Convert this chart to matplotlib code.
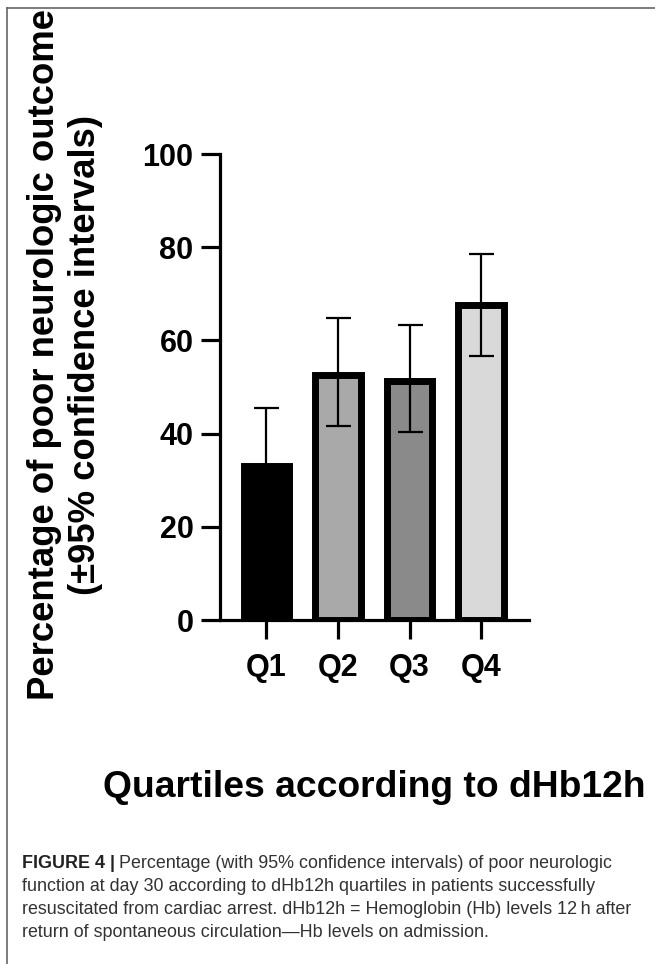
import numpy as np
import matplotlib
matplotlib.use("Agg")
import matplotlib.pyplot as plt
from matplotlib.lines import Line2D

# data
quartiles = ["Q1", "Q2", "Q3", "Q4"]
pct = [33.0, 52.5, 51.2, 67.7]
ci_low = [21.5, 41.7, 40.4, 56.7]
ci_high = [45.6, 64.7, 63.4, 78.6]
bar_colors = ["#000000", "#a9a9a9", "#8a8a8a", "#d9d9d9"]
yticks = [0, 20, 40, 60, 80, 100]

caption_lines = [
    "Percentage (with 95% confidence intervals) of poor neurologic",
    "function at day 30 according to dHb12h quartiles in patients successfully",
    "resuscitated from cardiac arrest. dHb12h = Hemoglobin (Hb) levels 12\u2009h after",
    "return of spontaneous circulation\u2014Hb levels on admission.",
]

plt.rcParams['font.family'] = ['Liberation Sans', 'DejaVu Sans']

W, H = 655, 964
fig = plt.figure(figsize=(W / 100, H / 100), dpi=100)

# axes placed in pixel terms
left, right, bottom, top = 220, 529, 620, 154
ax = fig.add_axes([left / W, 1 - bottom / H, (right - left) / W, (bottom - top) / H])

x = np.arange(len(quartiles))
ax.bar(x, pct, width=0.64, color=bar_colors, edgecolor="black", linewidth=5, zorder=2)
err = [np.array(pct) - np.array(ci_low), np.array(ci_high) - np.array(pct)]
ax.errorbar(x, pct, yerr=err, fmt="none", ecolor="black", elinewidth=1.6,
            capsize=9, capthick=1.6, zorder=3)

ax.set_xlim(-0.65, 3.67)
ax.set_ylim(0, 100)
ax.set_yticks(yticks)
ax.set_xticks(x)
ax.set_xticklabels(quartiles)
for s in ["top", "right"]:
    ax.spines[s].set_visible(False)
for s in ["left", "bottom"]:
    ax.spines[s].set_linewidth(2.3)
ax.tick_params(axis="both", direction="out", length=14, width=2.3,
               labelsize=22)
ax.tick_params(axis="x", pad=10)
ax.tick_params(axis="y", pad=5)
for lab in ax.get_xticklabels() + ax.get_yticklabels():
    lab.set_fontweight("bold")

fig.text(65 / W, 1 - 355 / H,
         "Percentage of poor neurologic outcome\n(\u00b195% confidence intervals)",
         rotation=90, ha="center", va="center", multialignment="center",
         fontsize=26.3, fontweight="bold")

fig.text((left + right) / 2 / W, 1 - 797 / H, "Quartiles according to dHb12h",
         ha="center", va="baseline", fontsize=26.8, fontweight="bold")

# thin frame at top and left
fig.add_artist(Line2D([7 / W, 7 / W], [0, 1 - 8 / H], color="#666666", lw=1.2,
                      transform=fig.transFigure))
fig.add_artist(Line2D([7 / W, 1], [1 - 8 / H, 1 - 8 / H], color="#666666", lw=1.2,
                      transform=fig.transFigure))

# caption
cap_size = 12.9
ys = [868, 891, 914, 937]
head = fig.text(22 / W, 1 - ys[0] / H, "FIGURE 4 |", fontsize=cap_size,
                fontweight="bold", color="#222222", va="baseline")
fig.canvas.draw()
bb = head.get_window_extent()
fig.text((bb.x1 + 4) / W, 1 - ys[0] / H, caption_lines[0], fontsize=cap_size,
         color="#333333", va="baseline")
for line, yy in zip(caption_lines[1:], ys[1:]):
    fig.text(22 / W, 1 - yy / H, line, fontsize=cap_size,
             color="#333333", va="baseline")

fig.savefig("out.png", dpi=100)
